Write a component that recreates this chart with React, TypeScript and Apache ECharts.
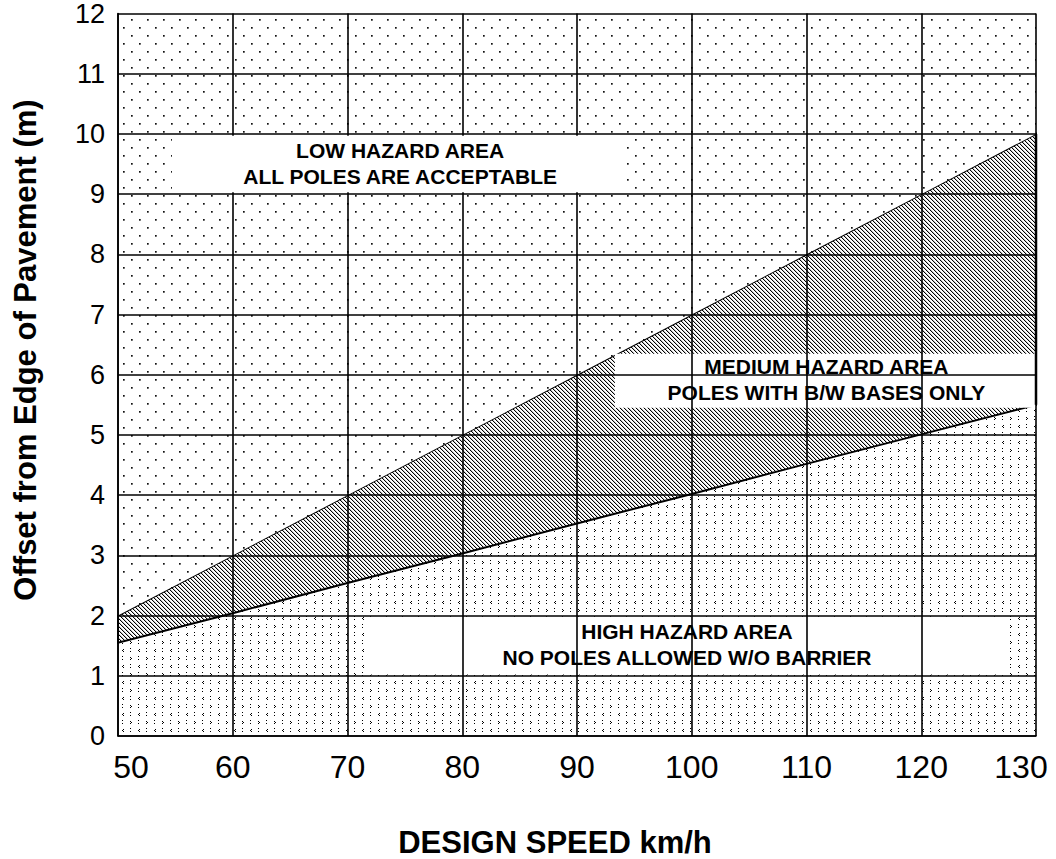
import React, { useEffect, useRef } from "react";
import * as echarts from "echarts";

// ---- data ----
const speeds = [50, 60, 70, 80, 90, 100, 110, 120, 130];
const upperOffsets = [2, 3, 4, 5, 6, 7, 8, 9, 10];
const lowerOffsets = [1.55, 2.04, 2.54, 3.03, 3.53, 4.02, 4.52, 5.01, 5.5];
const xTicks = [50, 60, 70, 80, 90, 100, 110, 120, 130];
const yTicks = [0, 1, 2, 3, 4, 5, 6, 7, 8, 9, 10, 11, 12];
const regionNames = ["HIGH HAZARD", "MEDIUM HAZARD", "LOW HAZARD"];
const lowLabel = ["LOW HAZARD AREA", "ALL POLES ARE ACCEPTABLE"];
const mediumLabel = ["MEDIUM HAZARD AREA", "POLES WITH B/W BASES ONLY"];
const highLabel = ["HIGH HAZARD AREA", "NO POLES ALLOWED W/O BARRIER"];
const xTitle = "DESIGN SPEED km/h";
const yTitle = "Offset from Edge of Pavement (m)";

// ---- layout (annotation boxes in axis units) ----
const lowBox = { x0: 54.7, x1: 94.3, y0: 9.03, y1: 9.97 };
const mediumBox = { x0: 93.3, x1: 130, y0: 5.45, y1: 6.35 };
const highBox = { x0: 71.7, x1: 127.3, y0: 1.02, y1: 1.98 };

const FONT = '"Liberation Sans", Arial, Helvetica, sans-serif';

function makeTile(w: number, h: number, draw: (ctx: CanvasRenderingContext2D) => void) {
  const c = document.createElement("canvas");
  c.width = w;
  c.height = h;
  const ctx = c.getContext("2d")!;
  ctx.fillStyle = "#fff";
  ctx.fillRect(0, 0, w, h);
  draw(ctx);
  return { image: c.toDataURL(), repeat: "repeat", imageWidth: w, imageHeight: h } as any;
}

export default function App() {
  const ref = useRef<HTMLDivElement>(null);

  useEffect(() => {
    if (!ref.current) return;
    const chart = echarts.init(ref.current, null, { renderer: "svg" });

    const xMin = xTicks[0];
    const xMax = xTicks[xTicks.length - 1];
    const yMin = yTicks[0];
    const yMax = yTicks[yTicks.length - 1];

    // patterns
    const lowPattern = makeTile(16, 16, (ctx) => {
      ctx.fillStyle = "#111";
      ctx.fillRect(3, 3, 1.7, 1.7);
      ctx.fillRect(11, 11, 1.7, 1.7);
    });
    const hatchPattern = makeTile(4, 4, (ctx) => {
      for (let i = 0; i < 4; i++) {
        ctx.fillStyle = "#000";
        ctx.fillRect(i, i, 1, 1);
        ctx.fillStyle = "#c4c4c4";
        ctx.fillRect((i + 1) % 4, i, 1, 1);
      }
    });
    const highPattern = makeTile(16, 16, (ctx) => {
      ctx.fillStyle = "#000";
      const px = (x: number, y: number) => ctx.fillRect(x, y, 1, 1);
      // row A: ">" mark and a pair of dots
      px(2, 1); px(3, 2); px(2, 3);
      px(10, 0); px(10, 3);
      // row B: "<" mark and a pair of dots
      px(11, 9); px(10, 10); px(11, 11);
      px(2, 8); px(2, 11);
    });
    const patterns = [highPattern, hatchPattern, lowPattern];

    const renderRegion = (params: any, api: any) => {
      const i = params.dataIndex;
      const up = speeds.map((s, k) => api.coord([s, upperOffsets[k]]));
      const lo = speeds.map((s, k) => api.coord([s, lowerOffsets[k]]));
      let pts: number[][];
      if (i === 0) {
        pts = [...lo, api.coord([xMax, yMin]), api.coord([xMin, yMin])];
      } else if (i === 1) {
        pts = [...up, ...lo.slice().reverse()];
      } else {
        pts = [...up, api.coord([xMax, yMax]), api.coord([xMin, yMax])];
      }
      return {
        type: "polygon",
        shape: { points: pts },
        style: {
          fill: patterns[i],
          stroke: i === 1 ? "#000" : null,
          lineWidth: i === 1 ? 2 : 0,
          lineJoin: "miter",
        },
      };
    };

    const renderBox = (boxes: any[], labels: string[][]) => (params: any, api: any) => {
      const b = boxes[params.dataIndex];
      const p0 = api.coord([b.x0, b.y1]);
      const p1 = api.coord([b.x1, b.y0]);
      const cx = (p0[0] + p1[0]) / 2;
      const cy = (p0[1] + p1[1]) / 2;
      return {
        type: "group",
        children: [
          {
            type: "rect",
            shape: { x: p0[0], y: p0[1], width: p1[0] - p0[0], height: p1[1] - p0[1] },
            style: { fill: "#fff", stroke: null },
          },
          {
            type: "text",
            x: cx + 1,
            y: cy - 1,
            style: {
              text: labels[params.dataIndex].join("\n"),
              font: `bold 21px ${FONT}`,
              fill: "#000",
              align: "center",
              verticalAlign: "middle",
              lineHeight: 26,
            },
          },
        ],
      };
    };

    const option: any = {
      animation: false,
      backgroundColor: "#fff",
      grid: { left: 118, right: 20, top: 12, bottom: 123, show: false },
      xAxis: {
        type: "value",
        min: xMin,
        max: xMax,
        interval: 10,
        z: 3,
        axisLine: { show: true, onZero: false, lineStyle: { color: "#000", width: 1.6 } },
        axisTick: { show: false },
        splitLine: { show: true, lineStyle: { color: "#000", width: 1.6 } },
        axisLabel: {
          margin: 15,
          color: "#000",
          fontSize: 32,
          fontFamily: FONT,
          formatter: (v: number) =>
            v === xMin ? `{first|${v}}` : v === xMax ? `{last|${v}}` : `{mid|${v}}`,
          rich: {
            first: { padding: [0, 0, 0, 26], fontSize: 32, fontFamily: FONT, color: "#000" },
            last: { padding: [0, 30, 0, 0], fontSize: 32, fontFamily: FONT, color: "#000" },
            mid: { fontSize: 32, fontFamily: FONT, color: "#000" },
          },
        },
      },
      yAxis: {
        type: "value",
        min: yMin,
        max: yMax,
        interval: 1,
        z: 3,
        axisLine: { show: true, onZero: false, lineStyle: { color: "#000", width: 1.6 } },
        axisTick: { show: false },
        splitLine: { show: true, lineStyle: { color: "#000", width: 1.6 } },
        axisLabel: { margin: 13, color: "#000", fontSize: 27, fontFamily: FONT },
      },
      graphic: [
        {
          type: "text",
          x: 25,
          y: 350,
          rotation: Math.PI / 2,
          style: {
            text: yTitle,
            font: `bold 31px ${FONT}`,
            fill: "#000",
            align: "center",
            verticalAlign: "middle",
          },
        },
        {
          type: "text",
          x: 555,
          y: 842,
          style: {
            text: xTitle,
            font: `bold 31px ${FONT}`,
            fill: "#000",
            align: "center",
            verticalAlign: "middle",
          },
        },
      ],
      series: [
        {
          type: "custom",
          name: "regions",
          coordinateSystem: "cartesian2d",
          z: 1,
          silent: true,
          clip: false,
          data: regionNames.map((n) => ({ name: n, value: [xMin, yMin] })),
          renderItem: renderRegion,
        },
        {
          type: "custom",
          name: "under-grid labels",
          coordinateSystem: "cartesian2d",
          z: 2,
          silent: true,
          data: [
            { name: "medium", value: [xMin, yMin] },
            { name: "high", value: [xMin, yMin] },
          ],
          renderItem: renderBox([mediumBox, highBox], [mediumLabel, highLabel]),
        },
        {
          type: "custom",
          name: "low label",
          coordinateSystem: "cartesian2d",
          z: 4,
          silent: true,
          data: [{ name: "low", value: [xMin, yMin] }],
          renderItem: renderBox([lowBox], [lowLabel]),
        },
        {
          type: "custom",
          name: "right edge",
          coordinateSystem: "cartesian2d",
          z: 4,
          silent: true,
          data: [{ name: "edge", value: [xMax, yMin] }],
          renderItem: (params: any, api: any) => {
            const a = api.coord([xMax, upperOffsets[upperOffsets.length - 1]]);
            const b = api.coord([xMax, lowerOffsets[lowerOffsets.length - 1]]);
            return {
              type: "line",
              shape: { x1: a[0], y1: a[1], x2: b[0], y2: b[1] },
              style: { stroke: "#000", lineWidth: 2.5 },
            };
          },
        },
      ],
    };

    chart.setOption(option);
    return () => chart.dispose();
  }, []);

  return (
    <div
      ref={ref}
      style={{ position: "fixed", left: 0, top: 0, width: 1056, height: 859, background: "#fff" }}
    />
  );
}
